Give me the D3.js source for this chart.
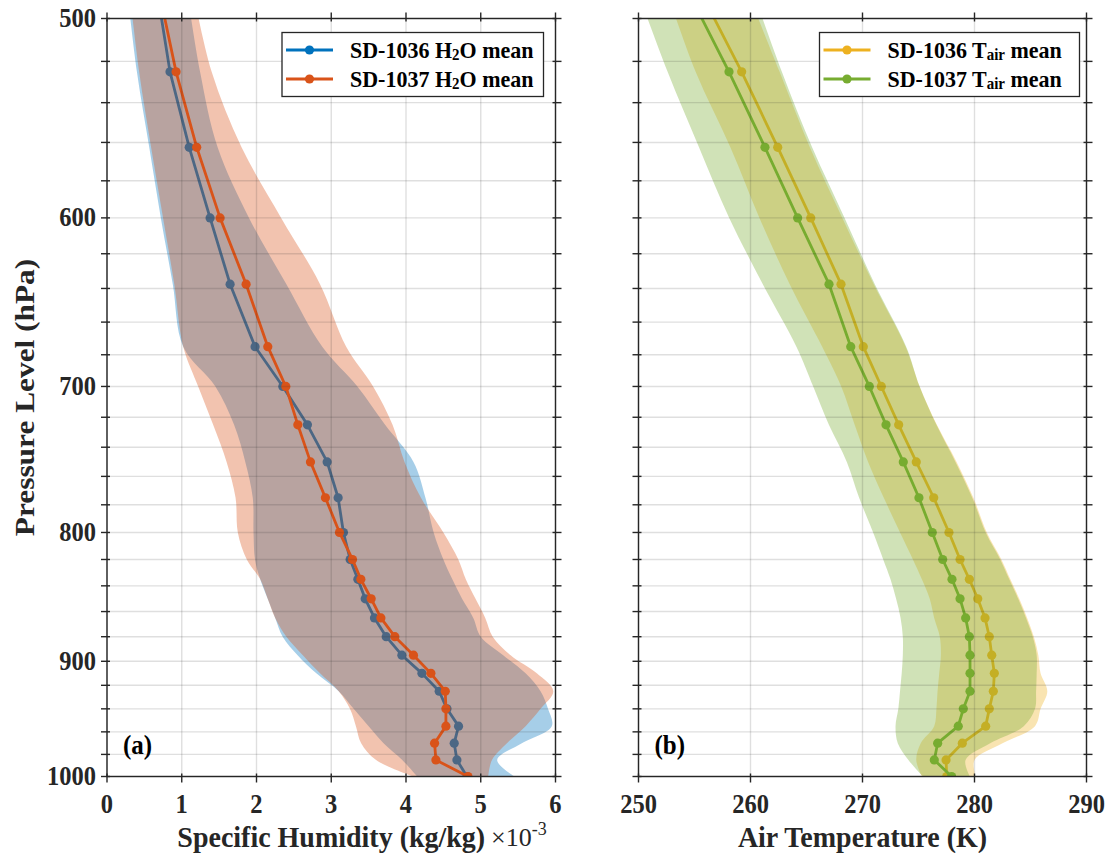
<!DOCTYPE html>
<html><head><meta charset="utf-8">
<script src="https://cdn.jsdelivr.net/npm/d3@7"></script>
<style>
body{margin:0;background:#fff;}
svg{display:block;font-family:"Liberation Serif","Times New Roman",serif;font-weight:bold;}
</style></head><body>
<svg id="c" width="1109" height="853"></svg>
<script>
// ---------------- DATA ----------------
const levels = [487.5, 525, 562.5, 600, 637.5, 675, 700, 725, 750, 775, 800, 820, 835, 850, 865, 880, 895, 910, 925, 940, 955, 970, 985, 1000];

// Specific humidity (x 1e-3 kg/kg)
const h2o1036Mean = [0.67, 0.843, 1.10, 1.379, 1.647, 1.981, 2.352, 2.681, 2.945, 3.092, 3.163, 3.253, 3.356, 3.454, 3.578, 3.735, 3.945, 4.213, 4.444, 4.548, 4.703, 4.645, 4.681, 4.815];
const h2o1036Lo   = [0.27, 0.40, 0.565, 0.72, 0.88, 1.02, 1.45, 1.70, 1.85, 1.95, 1.96, 1.98, 2.05, 2.15, 2.25, 2.35, 2.55, 2.80, 3.10, 3.30, 3.50, 3.70, 3.95, 4.15];
const h2o1036Hi   = [1.07, 1.245, 1.48, 1.90, 2.40, 2.88, 3.35, 3.72, 4.10, 4.26, 4.37, 4.50, 4.62, 4.75, 4.90, 5.00, 5.30, 5.60, 5.80, 5.90, 5.95, 5.55, 5.22, 5.45];
const h2o1037Mean = [0.695, 0.924, 1.20, 1.513, 1.861, 2.151, 2.392, 2.553, 2.722, 2.922, 3.110, 3.284, 3.396, 3.534, 3.664, 3.851, 4.10, 4.333, 4.525, 4.534, 4.534, 4.382, 4.40, 4.829];
const h2o1037Lo   = [0.30, 0.43, 0.59, 0.75, 0.90, 1.02, 1.22, 1.42, 1.60, 1.72, 1.75, 1.87, 2.05, 2.15, 2.25, 2.40, 2.62, 2.85, 3.10, 3.25, 3.33, 3.40, 3.60, 4.10];
const h2o1037Hi   = [1.15, 1.40, 1.80, 2.33, 2.85, 3.20, 3.56, 3.82, 3.98, 4.20, 4.50, 4.70, 4.80, 4.93, 5.06, 5.16, 5.40, 5.75, 5.97, 5.80, 5.60, 5.35, 5.15, 5.10];

// Air temperature (K)
const tair1036Mean = [255.5, 259.21, 262.43, 265.38, 268.08, 270.07, 271.68, 273.23, 274.80, 276.36, 277.72, 278.71, 279.54, 280.29, 280.94, 281.32, 281.54, 281.77, 281.68, 281.32, 281.0, 278.91, 277.46, 277.52];
const tair1036Lo   = [252.5, 255.1, 258.2, 260.8, 263.5, 266.4, 268.1, 269.3, 270.5, 271.9, 273.35, 274.5, 275.3, 276.0, 276.4, 276.9, 277.0, 276.85, 276.7, 276.6, 276.4, 275.2, 274.8, 275.3];
const tair1036Hi   = [259.7, 262.6, 265.3, 268.2, 271.0, 273.85, 275.1, 276.64, 278.4, 279.9, 281.1, 282.4, 283.2, 284.0, 284.7, 285.3, 285.7, 285.9, 286.5, 285.9, 285.4, 282.5, 280.0, 280.1];
const tair1037Mean = [254.4, 258.08, 261.29, 264.21, 267.01, 268.95, 270.61, 272.10, 273.64, 275.04, 276.23, 277.16, 277.99, 278.71, 279.21, 279.54, 279.6, 279.6, 279.6, 279.0, 278.55, 276.71, 276.41, 277.96];
const tair1037Lo   = [249.9, 252.6, 255.4, 258.1, 261.1, 264.1, 265.6, 267.0, 268.6, 269.7, 270.95, 271.85, 272.5, 273.0, 273.4, 273.6, 273.6, 273.5, 273.35, 273.2, 272.95, 273.15, 274.1, 275.4];
const tair1037Hi   = [260.2, 262.8, 265.5, 268.4, 271.1, 273.9, 275.1, 276.6, 278.3, 279.8, 281.0, 282.3, 283.1, 283.9, 284.6, 285.2, 285.55, 285.55, 285.5, 285.4, 284.4, 281.4, 279.2, 279.6];

// Ticks
const pressureTicks = [500,520,540,560,580,600,620,640,660,680,700,720,740,760,780,800,820,840,860,880,900,920,940,960,980,1000];
const pressureLabels = [500,600,700,800,900,1000];
const h2oTicks = [0,1,2,3,4,5,6];
const tairTicks = [250,260,270,280,290];

const h2oLegend = [["SD-1036 H","2","O mean"],["SD-1037 H","2","O mean"]];
const tairLegend = [["SD-1036 T","air"," mean"],["SD-1037 T","air"," mean"]];

// ---------------- DRAW ----------------
const svg = d3.select('#c');
const TOP = 18.5, BOTTOM = 776.5;
const AX = '#262626';
const ALPHA = 0.35;
const STRETCH = 1.08;
const y = d3.scaleLog().domain([500,1000]).range([TOP,BOTTOM]);

function stretched(parent, x, yy, sy){
  return parent.append('text').attr('transform',`translate(${x},${yy}) scale(1,${sy})`);
}

function panel(cfg){
  const x = d3.scaleLinear().domain(cfg.domain).range([cfg.x0,cfg.x1]);
  const clipId = 'clip'+cfg.id;
  svg.append('clipPath').attr('id',clipId).append('rect')
    .attr('x',cfg.x0).attr('y',TOP).attr('width',cfg.x1-cfg.x0).attr('height',BOTTOM-TOP);
  const g = svg.append('g');
  const plot = g.append('g').attr('clip-path',`url(#${clipId})`);
  cfg.series.forEach(s=>{
    const rows = levels.map((p,i)=>({p, lo:s.lo[i], hi:s.hi[i], m:s.mean[i]}));
    plot.append('path').datum(rows)
      .attr('d', d3.area().y(d=>y(d.p)).x0(d=>x(d.lo)).x1(d=>x(d.hi)).curve(d3.curveCatmullRom))
      .attr('fill', s.color).attr('fill-opacity', ALPHA);
    plot.append('path').datum(rows)
      .attr('d', d3.line().y(d=>y(d.p)).x(d=>x(d.m)))
      .attr('fill','none').attr('stroke',s.color).attr('stroke-width',2.8).attr('stroke-linejoin','round');
    plot.append('g').selectAll('circle').data(rows).join('circle')
      .attr('cx',d=>x(d.m)).attr('cy',d=>y(d.p)).attr('r',4.6).attr('fill',s.color);
  });
  // grid on top
  const grid = g.append('g').attr('stroke',AX).attr('stroke-opacity',0.15).attr('stroke-width',1.4);
  grid.selectAll('line.v').data(cfg.ticks).join('line').attr('class','v')
    .attr('x1',d=>x(d)).attr('x2',d=>x(d)).attr('y1',TOP).attr('y2',BOTTOM);
  grid.selectAll('line.h').data(pressureTicks).join('line').attr('class','h')
    .attr('y1',d=>y(d)).attr('y2',d=>y(d)).attr('x1',cfg.x0).attr('x2',cfg.x1);
  // axes box
  const ax = g.append('g').attr('stroke',AX).attr('stroke-width',1.4).attr('fill','none');
  ax.append('rect').attr('x',cfg.x0).attr('y',TOP).attr('width',cfg.x1-cfg.x0).attr('height',BOTTOM-TOP);
  const TO=6, TI=3;
  pressureTicks.forEach(p=>{
    ax.append('line').attr('x1',cfg.x0-TO).attr('x2',cfg.x0+TI).attr('y1',y(p)).attr('y2',y(p));
    ax.append('line').attr('x1',cfg.x1-TI).attr('x2',cfg.x1+TO).attr('y1',y(p)).attr('y2',y(p));
  });
  cfg.ticks.forEach(t=>{
    ax.append('line').attr('x1',x(t)).attr('x2',x(t)).attr('y1',BOTTOM-TI).attr('y2',BOTTOM+TO);
    ax.append('line').attr('x1',x(t)).attr('x2',x(t)).attr('y1',TOP-TO).attr('y2',TOP+TI);
  });
  // tick labels
  cfg.ticks.forEach(t=>{
    stretched(g, x(t), 813, STRETCH).attr('text-anchor','middle')
      .attr('font-size',24.5).attr('fill',AX).text(t);
  });
  if(cfg.yLabels){
    pressureLabels.forEach(p=>{
      stretched(g, cfg.x0-11, y(p)+8.5, STRETCH).attr('text-anchor','end')
        .attr('font-size',24.5).attr('fill',AX).text(p);
    });
    g.append('text').attr('transform',`translate(34,${(TOP+BOTTOM)/2}) rotate(-90) scale(1.12,1)`)
      .attr('text-anchor','middle').attr('font-size',28).attr('fill',AX).text('Pressure Level (hPa)');
  }
  stretched(g, (cfg.x0+cfg.x1)/2, 847, 1.08).attr('text-anchor','middle')
    .attr('font-size',28).attr('fill',AX).text(cfg.xlabel);
  // panel label
  stretched(g, cfg.x0+16, 754, 1.05).attr('font-size',25).attr('fill','#000').text(cfg.tag);
  // legend
  const L = cfg.legend;
  const lg = g.append('g');
  lg.append('rect').attr('x',L.x).attr('y',32.5).attr('width',L.w).attr('height',64)
    .attr('fill','#fff').attr('stroke',AX).attr('stroke-width',1.3);
  cfg.series.forEach((s,i)=>{
    const ry = 50 + i*29;
    lg.append('line').attr('x1',L.x+4).attr('x2',L.x+51).attr('y1',ry).attr('y2',ry)
      .attr('stroke',s.color).attr('stroke-width',2.8);
    lg.append('circle').attr('cx',L.x+27.5).attr('cy',ry).attr('r',4.6).attr('fill',s.color);
    const parts = L.labels[i];
    const t = stretched(lg, L.x+68, ry+7.5, 1.05).attr('font-size',22).attr('fill','#000');
    t.append('tspan').text(parts[0]);
    t.append('tspan').attr('font-size',15).attr('dy',2).text(parts[1]);
    t.append('tspan').attr('dy',-2).text(parts[2]);
  });
}

panel({id:'a', x0:107, x1:555.5, domain:[0,6], ticks:h2oTicks, yLabels:true, tag:'(a)',
  xlabel:'Specific Humidity (kg/kg)',
  series:[{mean:h2o1036Mean, lo:h2o1036Lo, hi:h2o1036Hi, color:'#0072BD'},
          {mean:h2o1037Mean, lo:h2o1037Lo, hi:h2o1037Hi, color:'#D95319'}],
  legend:{x:282, w:261.5, labels:h2oLegend}});

panel({id:'b', x0:638.5, x1:1086.5, domain:[250,290], ticks:tairTicks, yLabels:false, tag:'(b)',
  xlabel:'Air Temperature (K)',
  series:[{mean:tair1036Mean, lo:tair1036Lo, hi:tair1036Hi, color:'#EDB120'},
          {mean:tair1037Mean, lo:tair1037Lo, hi:tair1037Hi, color:'#77AC30'}],
  legend:{x:819.5, w:260, labels:tairLegend}});

// x10^-3 multiplier
const mult = svg.append('text').attr('transform','translate(491,846)')
  .attr('font-size',26).attr('font-weight','normal').attr('fill',AX);
mult.append('tspan').text('×10');
mult.append('tspan').attr('font-size',18).attr('dy',-11).text('-3');
</script>
</body></html>
